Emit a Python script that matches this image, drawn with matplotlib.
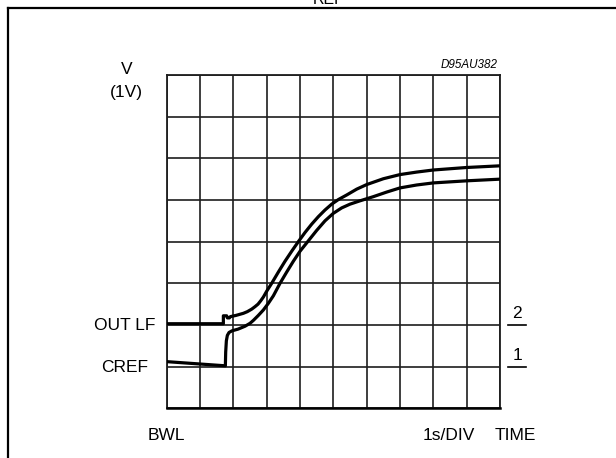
import matplotlib
matplotlib.use("Agg")
import matplotlib.pyplot as plt
from matplotlib.lines import Line2D

plt.rcParams['font.family'] = ['Liberation Sans', 'DejaVu Sans']

# Data (x: time in divisions of 1 s, y: volts in divisions of 1 V)
out_lf_t = [0.0, 1.70, 1.70, 1.80, 1.82, 1.88, 1.91, 2.08, 2.30, 2.42, 2.55, 2.65,
            2.74, 2.82, 2.90, 3.00, 3.15, 3.35, 3.55, 3.75, 3.95, 4.15, 4.35, 4.55,
            4.75, 4.95, 5.15, 5.40, 5.70, 6.00, 6.50, 7.00, 7.50, 8.00, 9.00, 10.0]
out_lf_v = [2.03, 2.03, 2.22, 2.22, 2.17, 2.17, 2.20, 2.23, 2.28, 2.32, 2.38, 2.44,
            2.50, 2.58, 2.67, 2.81, 3.00, 3.27, 3.53, 3.77, 4.00, 4.22, 4.42, 4.60,
            4.76, 4.90, 5.01, 5.12, 5.26, 5.37, 5.51, 5.61, 5.67, 5.72, 5.78, 5.82]
cref_t = [0.0, 1.76, 1.77, 1.79, 1.82, 1.87, 1.96, 2.14, 2.35, 2.50, 2.60, 2.75,
          2.90, 3.05, 3.20, 3.40, 3.60, 3.80, 4.00, 4.25, 4.50, 4.75, 5.00, 5.25,
          5.50, 5.80, 6.20, 6.60, 7.00, 7.50, 8.00, 9.00, 10.0]
cref_v = [1.12, 1.02, 1.35, 1.62, 1.75, 1.82, 1.86, 1.90, 1.97, 2.04, 2.11, 2.23,
          2.36, 2.52, 2.70, 3.00, 3.27, 3.53, 3.77, 4.02, 4.27, 4.50, 4.68, 4.81,
          4.90, 4.98, 5.08, 5.19, 5.29, 5.36, 5.41, 5.46, 5.50]
x_divs = list(range(0, 11))
y_divs = list(range(0, 9))

W, H = 616, 458
fig = plt.figure(figsize=(W / 100, H / 100), dpi=100)

def fx(px):
    return px / W

def fy(py):
    return 1 - py / H

left, right, top, bottom = 166.7, 500.0, 75.0, 408.3
ax = fig.add_axes([fx(left), fy(bottom), fx(right) - fx(left), fy(top) - fy(bottom)])
ax.set_xlim(0, 10)
ax.set_ylim(0, 8)
ax.set_xticks(x_divs)
ax.set_yticks(y_divs)
ax.tick_params(length=0, labelbottom=False, labelleft=False)
ax.grid(True, color='#1e1e1e', lw=1.2)
for s in ['top', 'right', 'left']:
    ax.spines[s].set_color('#1e1e1e')
    ax.spines[s].set_linewidth(1.3)
ax.spines['bottom'].set_color('black')
ax.spines['bottom'].set_linewidth(1.8)

ax.plot(out_lf_t, out_lf_v, color='black', lw=2.3, solid_joinstyle='round', zorder=5)
ax.plot(cref_t, cref_v, color='black', lw=2.3, solid_joinstyle='round', zorder=5)

# outer frame (top and left edges)
fig.add_artist(Line2D([fx(7.5), 1.0], [fy(7.5), fy(7.5)], color='black', lw=1.6))
fig.add_artist(Line2D([fx(7.5), fx(7.5)], [fy(7.5), 0.0], color='black', lw=1.6))

fs = 12.5
fig.text(fx(126.5), fy(70), 'V', ha='center', va='center', fontsize=fs)
fig.text(fx(126.5), fy(92), '(1V)', ha='center', va='center', fontsize=fs)
fig.text(fx(498), fy(65), 'D95AU382', ha='right', va='center', fontsize=8.4, style='italic')
fig.text(fx(94), fy(326), 'OUT LF', ha='left', va='center', fontsize=fs)
fig.text(fx(101.5), fy(368), 'CREF', ha='left', va='center', fontsize=fs)
fig.text(fx(148), fy(435), 'BWL', ha='left', va='center', fontsize=fs)
fig.text(fx(423), fy(435), '1s/DIV', ha='left', va='center', fontsize=fs)
fig.text(fx(495), fy(435), 'TIME', ha='left', va='center', fontsize=fs)
fig.text(fx(517), fy(313), '2', ha='center', va='center', fontsize=fs)
fig.text(fx(517), fy(355), '1', ha='center', va='center', fontsize=fs)
fig.add_artist(Line2D([fx(508), fx(526)], [fy(325), fy(325)], color='black', lw=1.2))
fig.add_artist(Line2D([fx(508), fx(526)], [fy(367), fy(367)], color='black', lw=1.2))
# clipped caption remnant at the very top (cut off in the reference too)
fig.text(fx(313), fy(4.5), 'REF', ha='left', va='baseline', fontsize=11.5)

fig.savefig('out.png', dpi=100)
